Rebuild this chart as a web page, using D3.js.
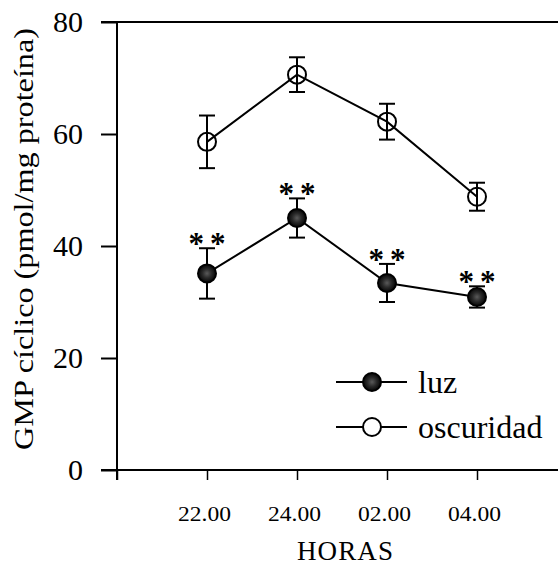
<!DOCTYPE html>
<html>
<head>
<meta charset="utf-8">
<script src="https://cdn.jsdelivr.net/npm/d3@7"></script>
<style>
  body { margin: 0; background: #fff; }
  text { font-family: "Liberation Serif", "Times New Roman", serif; fill: #000; }
</style>
</head>
<body>
<div id="chart"></div>
<script>
// GMP ciclico, luz vs oscuridad, por hora

const horas = ["22.00", "24.00", "02.00", "04.00"];
const luz = [35.1, 45.0, 33.4, 30.9];
const luzErr = [4.5, 3.5, 3.4, 1.9];
const oscuridad = [58.6, 70.6, 62.2, 48.8];
const oscuridadErr = [4.7, 3.1, 3.2, 2.5];
const marcas = ["**", "**", "**", "**"];
const yTicks = [0, 20, 40, 60, 80];

const width = 558,
  height = 565;

const x = d3.scaleLinear().domain([0, 5]).range([117, 567]);
const y = d3.scaleLinear().domain([0, 80]).range([470, 22]);

const svg = d3.select("#chart")
  .append("svg")
  .attr("width", width)
  .attr("height", height);

const grad = svg.append("defs").append("radialGradient").attr("id", "relleno");
grad.append("stop").attr("offset", "0%").attr("stop-color", "#5a5a5a");
grad.append("stop").attr("offset", "50%").attr("stop-color", "#2a2a2a");
grad.append("stop").attr("offset", "100%").attr("stop-color", "#050505");

// ejes
svg.append("g")
  .attr("transform", `translate(${x(0)},0)`)
  .call(d3.axisLeft(y).tickValues(yTicks).tickSize(16).tickSizeOuter(0).tickPadding(18))
  .call(g => g.select(".domain").remove())
  .call(g => g.selectAll("line").attr("stroke", "#000").attr("stroke-width", 2))
  .call(g => g.selectAll("text").attr("font-size", 30).attr("font-family", "Liberation Serif"));

svg.append("line")
  .attr("x1", x(0)).attr("x2", x(0))
  .attr("y1", y(80)).attr("y2", y(0) + 10)
  .attr("stroke", "#000").attr("stroke-width", 2);

svg.append("line")
  .attr("x1", x(0) - 16).attr("x2", width)
  .attr("y1", y(80)).attr("y2", y(80))
  .attr("stroke", "#000").attr("stroke-width", 2);

svg.append("g")
  .attr("transform", `translate(0,${y(0)})`)
  .call(d3.axisBottom(x).tickValues([0, 1, 2, 3, 4]).tickSize(10).tickSizeOuter(0)
    .tickFormat(d => d === 0 ? "" : horas[d - 1]).tickPadding(27))
  .call(g => g.select(".domain").remove())
  .call(g => g.selectAll("line").attr("stroke", "#000").attr("stroke-width", 1.5))
  .call(g => g.selectAll("text").attr("font-size", 20).attr("font-family", "Liberation Serif")
    .attr("dx", -3).attr("textLength", d => d === 0 ? null : 53)
    .attr("lengthAdjust", "spacingAndGlyphs"));

svg.append("line")
  .attr("x1", x(0) - 16).attr("x2", width)
  .attr("y1", y(0)).attr("y2", y(0))
  .attr("stroke", "#000").attr("stroke-width", 2);

svg.append("text")
  .attr("x", 345).attr("y", 560)
  .attr("text-anchor", "middle")
  .attr("font-size", 27)
  .attr("textLength", 96)
  .text("HORAS");

svg.append("text")
  .attr("transform", "translate(33,239) rotate(-90)")
  .attr("text-anchor", "middle")
  .attr("font-size", 28)
  .attr("textLength", 422)
  .attr("lengthAdjust", "spacingAndGlyphs")
  .text("GMP cíclico (pmol/mg proteína)");

// series
const serie = (vals, errs, filled) => {
  const pts = vals.map((v, i) => ({ i: i + 1, v, e: errs[i] }));
  const g = svg.append("g");

  g.append("path")
    .datum(pts)
    .attr("fill", "none")
    .attr("stroke", "#000")
    .attr("stroke-width", 2)
    .attr("d", d3.line().x(d => x(d.i)).y(d => y(d.v)));

  const eb = g.selectAll(".eb").data(pts).join("g").attr("stroke", "#000").attr("stroke-width", 2);
  eb.append("line")
    .attr("x1", d => x(d.i)).attr("x2", d => x(d.i))
    .attr("y1", d => y(d.v + d.e)).attr("y2", d => y(d.v - d.e));
  eb.append("line")
    .attr("x1", d => x(d.i) - 8).attr("x2", d => x(d.i) + 8)
    .attr("y1", d => y(d.v + d.e)).attr("y2", d => y(d.v + d.e));
  eb.append("line")
    .attr("x1", d => x(d.i) - 8).attr("x2", d => x(d.i) + 8)
    .attr("y1", d => y(d.v - d.e)).attr("y2", d => y(d.v - d.e));

  g.selectAll("circle").data(pts).join("circle")
    .attr("cx", d => x(d.i)).attr("cy", d => y(d.v))
    .attr("r", 9)
    .attr("fill", filled ? "url(#relleno)" : "none")
    .attr("stroke", "#000")
    .attr("stroke-width", 2);
  return pts;
};

serie(oscuridad, oscuridadErr, false);
const luzPts = serie(luz, luzErr, true);

// asteriscos de significancia
svg.append("g").selectAll("text").data(luzPts).join("text")
  .attr("x", d => x(d.i) + 3)
  .attr("y", d => y(d.v + d.e) - 11 + 17)
  .attr("text-anchor", "middle")
  .attr("font-family", "Liberation Sans")
  .attr("font-size", 31)
  .attr("font-weight", "bold")
  .attr("letter-spacing", 6)
  .text((d, i) => marcas[i]);

// leyenda
const leyenda = [
  { name: "luz", filled: true, yy: 382 },
  { name: "oscuridad", filled: false, yy: 427 }
];
const lg = svg.append("g").selectAll("g").data(leyenda).join("g")
  .attr("transform", d => `translate(336,${d.yy})`);
lg.append("line").attr("x1", 0).attr("x2", 71).attr("stroke", "#000").attr("stroke-width", 2);
lg.append("circle").attr("cx", 36).attr("r", 9)
  .attr("fill", d => d.filled ? "url(#relleno)" : "#fff")
  .attr("stroke", "#000").attr("stroke-width", 2);
lg.append("text").attr("x", 82).attr("y", 11)
  .attr("font-size", 32)
  .text(d => d.name);
</script>
</body>
</html>
